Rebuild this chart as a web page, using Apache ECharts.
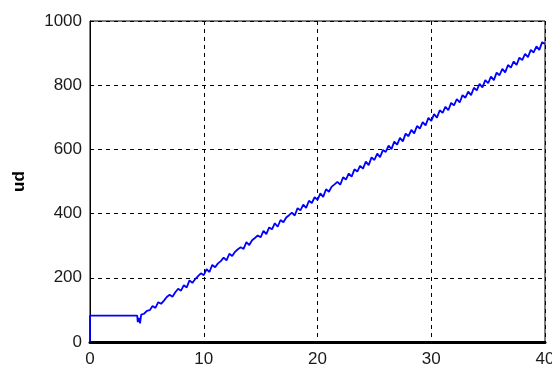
<!DOCTYPE html>
<html><head><meta charset="utf-8">
<script src="https://cdn.jsdelivr.net/npm/echarts@6/dist/echarts.min.js"></script>
<style>html,body{margin:0;padding:0;background:#fff}#c{width:552px;height:367px}</style>
</head><body><div id="c"></div>
<script>
var xTicks = [0, 10, 20, 30, 40];
var yTicks = [0, 200, 400, 600, 800, 1000];
var yName = 'ud';
var times = [0,0,4.15,4.2,4.3,4.4,4.5,4.75,
5,5.25,5.5,5.75,6,6.25,6.5,6.75,7,7.25,7.5,7.75,8,8.25,8.5,8.75,9,9.25,9.5,9.75,
10,10.25,10.5,10.75,11,11.25,11.5,11.75,12,12.25,12.5,12.75,13,13.25,13.5,13.75,14,14.25,14.5,14.75,
15,15.25,15.5,15.75,16,16.25,16.5,16.75,17,17.25,17.5,17.75,18,18.25,18.5,18.75,19,19.25,19.5,19.75,
20,20.25,20.5,20.75,21,21.25,21.5,21.75,22,22.25,22.5,22.75,23,23.25,23.5,23.75,24,24.25,24.5,24.75,
25,25.25,25.5,25.75,26,26.25,26.5,26.75,27,27.25,27.5,27.75,28,28.25,28.5,28.75,29,29.25,29.5,29.75,
30,30.25,30.5,30.75,31,31.25,31.5,31.75,32,32.25,32.5,32.75,33,33.25,33.5,33.75,34,34.25,34.5,34.75,
35,35.25,35.5,35.75,36,36.25,36.5,36.75,37,37.25,37.5,37.75,38,38.25,38.5,38.75,39,39.25,39.5,39.75,40];
var ud = [0,82,82,62,75,58,85,88,
97,99,112,106,124,119,129,140,147,141,155,166,160,177,170,192,184,196,205,214,
208,227,218,240,233,245,252,263,254,275,268,281,289,295,290,311,302,317,324,332,
326,346,336,357,351,370,359,380,373,388,395,403,394,417,410,428,418,440,433,451,
443,463,452,476,468,484,491,499,490,513,506,525,515,538,531,549,540,562,551,575,
567,587,576,598,592,612,601,624,615,636,625,649,641,661,650,673,665,685,675,698,
689,710,699,722,714,733,722,745,737,757,746,769,761,780,769,792,784,804,793,816,
806,827,816,839,831,851,840,863,855,874,863,886,878,898,887,910,902,921,910,934,928];

var data = times.map(function(t, i){ return [t, ud[i]]; });
var chart = echarts.init(document.getElementById('c'), null, {renderer:'canvas'});
var lab = {color:'#1a1a1a', fontSize:17, fontFamily:'Liberation Sans, Arial, sans-serif'};
chart.setOption({
  animation:false,
  backgroundColor:'#fff',
  grid:{left:90, right:7, top:21, bottom:25, outerBoundsMode:'none', containLabel:false,
    show:true, borderColor:'#000', borderWidth:1, backgroundColor:'transparent'},
  xAxis:{type:'value', min:xTicks[0], max:xTicks[xTicks.length-1], interval:10,
    axisLine:{show:true, onZero:false, lineStyle:{color:'#000', width:3}},
    axisTick:{show:false},
    axisLabel:Object.assign({margin:9, formatter:function(v){return String(v);}}, lab),
    splitLine:{show:true, lineStyle:{color:'#000', type:[4,4], width:1}}},
  yAxis:{type:'value', min:yTicks[0], max:yTicks[yTicks.length-1], interval:200,
    name:yName, nameLocation:'middle', nameGap:62, nameRotate:90,
    nameTextStyle:{color:'#000', fontSize:17, fontWeight:'bold', fontFamily:'Liberation Sans, Arial, sans-serif'},
    axisLine:{show:true, lineStyle:{color:'#000', width:1}},
    axisTick:{show:false},
    axisLabel:Object.assign({margin:8, formatter:function(v){return String(v);}}, lab),
    splitLine:{show:true, lineStyle:{color:'#000', type:[4,4], width:1}}},
  series:[{type:'line', data:data, showSymbol:false, symbol:'none',
    lineStyle:{color:'#0000ff', width:1.8}, z:3}]
});
</script></body></html>
